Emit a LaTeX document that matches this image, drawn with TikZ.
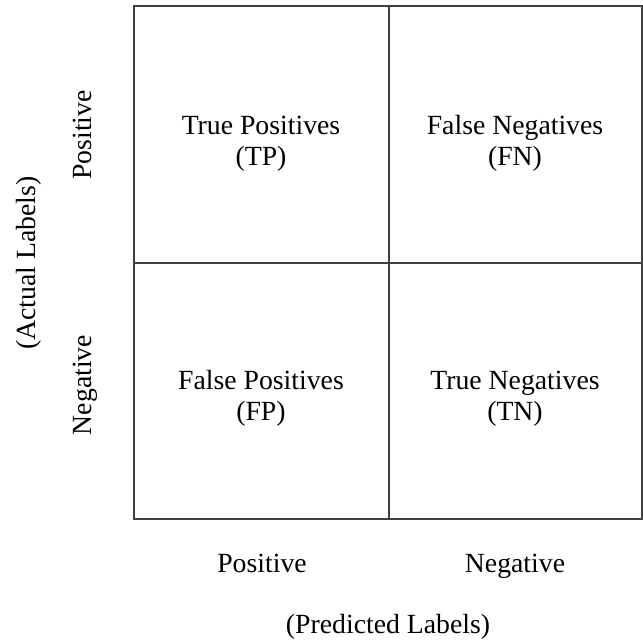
\documentclass[tikz,border=0pt]{standalone}
\usepackage{fontspec}
\setmainfont{Liberation Serif}
\begin{document}
\begin{tikzpicture}[x=0.75pt,y=-0.75pt,
  gridline/.style={draw=black!75, line width=1.5pt},
  celltext/.style={font=\fontsize{20.8pt}{23.5pt}\selectfont, align=center, inner sep=0pt},
  axistext/.style={font=\fontsize{20.8pt}{23.5pt}\selectfont, inner sep=0pt, anchor=base}]
\useasboundingbox (0,0) rectangle (643,643);
\coordinate (tl) at (134,6);
\coordinate (br) at (642,519);
\coordinate (mt) at (389,6);
\coordinate (mb) at (389,519);
\coordinate (ml) at (134,263);
\coordinate (mr) at (642,263);
\draw[gridline] (tl) rectangle (br);
\draw[gridline] (mt) -- (mb);
\draw[gridline] (ml) -- (mr);
\node[celltext] (tp) at (261,144) {\strut True Positives\\(TP)\strut};
\node[celltext] (fn) at (515,144) {\strut False Negatives\\(FN)\strut};
\node[celltext] (fp) at (261,399) {\strut False Positives\\(FP)\strut};
\node[celltext] (tn) at (515,399) {\strut True Negatives\\(TN)\strut};
\node[axistext] (pp) at (262,572) {Positive};
\node[axistext] (pn) at (515,572) {Negative};
\node[axistext] (pl) at (388,633) {(Predicted Labels)};
\node[axistext, rotate=90] (ap) at (91,135) {Positive};
\node[axistext, rotate=90] (an) at (91,385) {Negative};
\node[axistext, rotate=90] (al) at (36,263) {(Actual Labels)};
\end{tikzpicture}
\end{document}
